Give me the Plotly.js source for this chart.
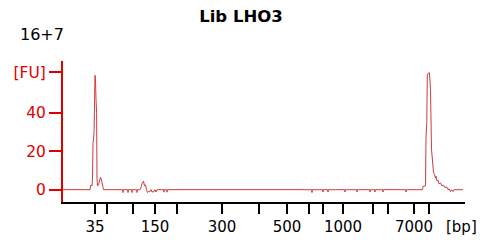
<!DOCTYPE html>
<html>
<head>
<meta charset="utf-8">
<script src="https://cdn.plot.ly/plotly-3.0.1.min.js"></script>
<style>
  html, body { margin: 0; padding: 0; background: #fff; }
  #chart { width: 480px; height: 246px; }
</style>
</head>
<body>
<div id="chart"></div>
<script>
// Electropherogram: migration time (s) vs fluorescence (FU)
const migrationTime = [
  20, 26.75, 27.0, 27.25, 27.375, 27.5, 27.75, 27.9, 28.0, 28.125, 28.25, 28.4, 28.5, 28.625,
  28.875, 29.125, 29.375, 29.625, 29.875, 30.125,
  34.9, 35.0, 35.1, 36.15, 36.25, 36.35, 37.15, 37.25, 37.35, 38.4, 38.5, 38.6,
  39.25, 39.5, 39.75, 40.125, 40.375, 40.625, 40.875, 41.125, 41.375, 41.75, 42.0, 42.25,
  42.75, 43.0, 43.25, 43.5,
  45.15, 45.25, 45.35, 45.9, 46.0, 46.1,
  82.15, 82.25, 82.35, 84.9, 85.0, 85.1, 86.15, 86.25, 86.35, 90.4, 90.5, 90.6,
  93.4, 93.5, 93.6, 96.65, 96.75, 96.85, 97.9, 98.0, 98.1, 99.9, 100.0, 100.1,
  105.65, 105.75, 105.85,
  109.875, 110.0, 110.625, 110.75, 110.95, 111.075, 111.575, 111.7, 111.875, 112.125,
  112.375, 112.625, 112.875, 113.125, 113.25, 113.5, 113.75, 114.0, 114.375, 114.75,
  115.125, 115.5, 115.875, 116.25, 116.5, 116.875, 117.125, 117.5, 117.75, 120.0
];
const fluorescence = [
  0, 0, 2.5, 2, 6, 24, 29, 50, 59.5, 57, 47, 40, 6, 2,
  2.5, 4, 6.5, 5, 1, 0,
  0, -1.5, 0, 0, -1.5, 0, 0, -1.5, 0, 0, -1.5, 0,
  0, 1, 3, 4.5, 2, 2.5, 0, -1.5, -1, -1, 0, -1.2,
  -1, 0, -1.2, 0,
  0, -1.3, 0, 0, -1.3, 0,
  0, -1.5, 0, 0, -1.2, 0, 0, -1.2, 0, 0, -1.2, 0,
  0, -1.2, 0, 0, -1.2, 0, 0, -1.2, 0, 0, -1.2, 0,
  0, -1.2, 0,
  0, 1.8, 2, 27, 35, 60, 60.8, 58, 52, 21,
  15, 9, 8, 6, 7, 4.5, 5, 3, 3.5, 2,
  2.3, 1, 1.5, 0, 0.5, -1, 0, -1, 0, 0
];

// Ladder (bp) and its migration times
const ladderBp = [35, 50, 100, 150, 200, 300, 400, 500, 600, 700, 1000, 2000, 3000, 7000, 10380];
const ladderTime = [28.0, 31.0, 37.5, 43.0, 48.5, 59.75, 69.0, 76.0, 81.5, 85.0, 90.0, 97.5, 101.25, 107.75, 111.5];
const labeledBp = [35, 150, 300, 500, 1000, 7000];
const xTickText = ladderBp.map(b => labeledBp.includes(b) ? String(b) : '');

const yTickVals = [0, 20, 40, 61];
const yTickText = ['0', '20', '40', '[FU]'];

const FONT = 'DejaVu Sans, Verdana, sans-serif';
const RED = '#e00000';

const trace = {
  x: migrationTime,
  y: fluorescence,
  type: 'scatter',
  mode: 'lines',
  line: { color: 'rgb(205,60,60)', width: 1 },
  hoverinfo: 'skip'
};

const layout = {
  width: 480,
  height: 246,
  margin: { l: 63, r: 15, t: 61, b: 44, pad: 0 },
  paper_bgcolor: '#fff',
  plot_bgcolor: '#fff',
  showlegend: false,
  title: {
    text: 'Lib LHO3',
    font: { family: FONT, size: 16.5, color: '#000', weight: 'bold' },
    x: 0.502, xref: 'container', xanchor: 'center',
    y: 0.936, yref: 'container', yanchor: 'middle'
  },
  xaxis: {
    range: [20, 120.5],
    tickmode: 'array',
    tickvals: ladderTime,
    ticktext: xTickText,
    ticks: 'outside',
    ticklen: 10,
    tickwidth: 2,
    tickcolor: '#000',
    showline: true,
    linecolor: '#000',
    linewidth: 2,
    showgrid: false,
    zeroline: false,
    tickfont: { family: FONT, size: 15, color: '#000' },
    fixedrange: true
  },
  yaxis: {
    range: [-6.4, 66.9],
    tickmode: 'array',
    tickvals: yTickVals,
    ticktext: yTickText,
    ticks: 'outside',
    ticklen: 12,
    tickwidth: 2,
    tickcolor: RED,
    showline: true,
    linecolor: RED,
    linewidth: 2,
    showgrid: false,
    zeroline: false,
    tickfont: { family: FONT, size: 15.5, color: RED },
    fixedrange: true
  },
  annotations: [
    {
      text: '16+7', xref: 'paper', yref: 'paper',
      x: -0.052, y: 1.185, xanchor: 'center', yanchor: 'middle',
      showarrow: false, font: { family: FONT, size: 16, color: '#000' }
    },
    {
      text: '[bp]', xref: 'paper', yref: 'paper',
      x: 0.9925, y: -0.177, xanchor: 'center', yanchor: 'middle',
      showarrow: false, font: { family: FONT, size: 15, color: '#000' }
    }
  ]
};

Plotly.newPlot('chart', [trace], layout, { staticPlot: true, displayModeBar: false });
</script>
</body>
</html>
